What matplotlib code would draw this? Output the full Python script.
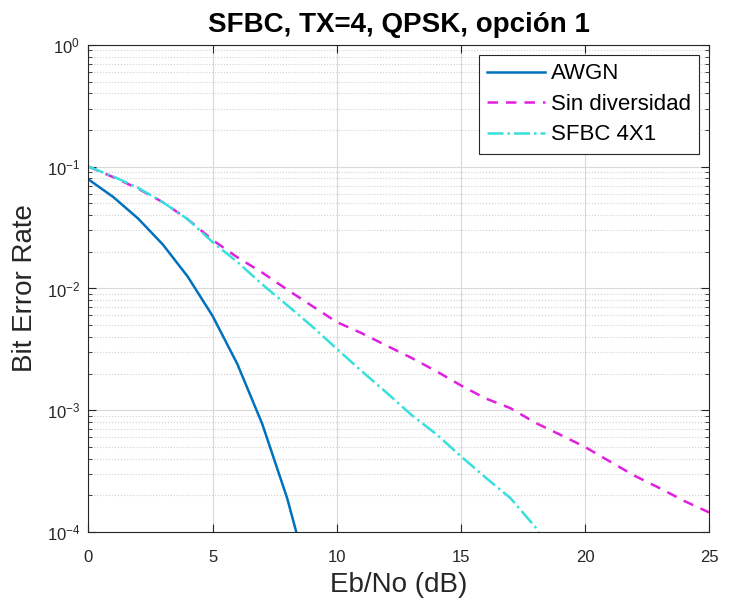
import matplotlib
matplotlib.use("Agg")
import matplotlib.pyplot as plt
from matplotlib.ticker import LogLocator, NullFormatter

plt.rcParams['font.family'] = ['Liberation Sans', 'DejaVu Sans']

# Eb/No axis (dB)
ebno_awgn = [0, 1, 2, 3, 4, 5, 6, 7, 8, 9]
ber_awgn = [7.86e-2, 5.63e-2, 3.75e-2, 2.29e-2, 1.25e-2, 5.95e-3, 2.39e-3, 7.73e-4, 1.91e-4, 3.36e-5]

ebno = list(range(26))
ber_sin = [0.100, 0.082, 0.066, 0.051, 0.037, 0.025, 0.018, 0.0135, 0.0098, 0.0072,
           0.0053, 0.0043, 0.0034, 0.0027, 0.0021, 0.0016, 0.00125, 0.00104, 0.00079, 0.00063,
           0.00050, 0.00038, 0.00029, 0.00023, 0.00018, 0.000145]

ebno_sfbc = list(range(20))
ber_sfbc = [0.100, 0.083, 0.067, 0.051, 0.037, 0.024, 0.0165, 0.0108, 0.0073, 0.0049,
            0.0032, 0.0021, 0.0014, 0.00092, 0.00064, 0.00042, 0.00028, 0.00019, 0.00011, 0.00005]

fig = plt.figure(figsize=(7.31, 6.06), dpi=100)
ax = fig.add_axes([0.121, 0.122, 0.849, 0.804])

ax.semilogy(ebno_awgn, ber_awgn, '-', color='#0072BD', lw=1.8, label='AWGN')
ax.semilogy(ebno, ber_sin, '--', color='#E020E0', lw=1.8, dashes=(4.2, 3.2), label='Sin diversidad')
ax.semilogy(ebno_sfbc, ber_sfbc, '-.', color='#38E0DC', lw=1.8, label='SFBC 4X1')

ax.set_xlim(0, 25)
ax.set_ylim(1e-4, 1)
ax.set_xticks([0, 5, 10, 15, 20, 25])
ax.yaxis.set_major_locator(LogLocator(base=10, numticks=10))
ax.yaxis.set_minor_locator(LogLocator(base=10, subs=range(2, 10), numticks=10))
ax.yaxis.set_minor_formatter(NullFormatter())

ax.grid(True, which='major', color='#D9D9D9', lw=0.8, ls='-')
ax.grid(True, which='minor', axis='y', color='#D0D0D0', lw=0.8, ls=':')
ax.set_axisbelow(True)

ax.tick_params(which='both', direction='in', top=True, right=True, labelsize=12, colors='#262626')
ax.tick_params(which='major', length=6)
ax.tick_params(which='minor', length=3)
ax.tick_params(axis='x', which='major', pad=13)
ax.tick_params(axis='y', which='major', pad=6)
for s in ax.spines.values():
    s.set_color('#262626')
    s.set_linewidth(0.8)

ax.set_xlabel('Eb/No (dB)', fontsize=20, color='#262626', labelpad=5)
ax.set_ylabel('Bit Error Rate', fontsize=20, color='#262626', labelpad=6)
ax.set_title('SFBC, TX=4, QPSK, opción 1', fontsize=20, fontweight='bold', pad=9)

leg = ax.legend(loc='upper right', fontsize=16, fancybox=False, framealpha=1,
                edgecolor='#262626', handlelength=2.6, handletextpad=0.25,
                labelspacing=0.43, borderpad=0.38, borderaxespad=0.45)
leg.get_frame().set_linewidth(0.8)

fig.savefig('out.png', dpi=100)
